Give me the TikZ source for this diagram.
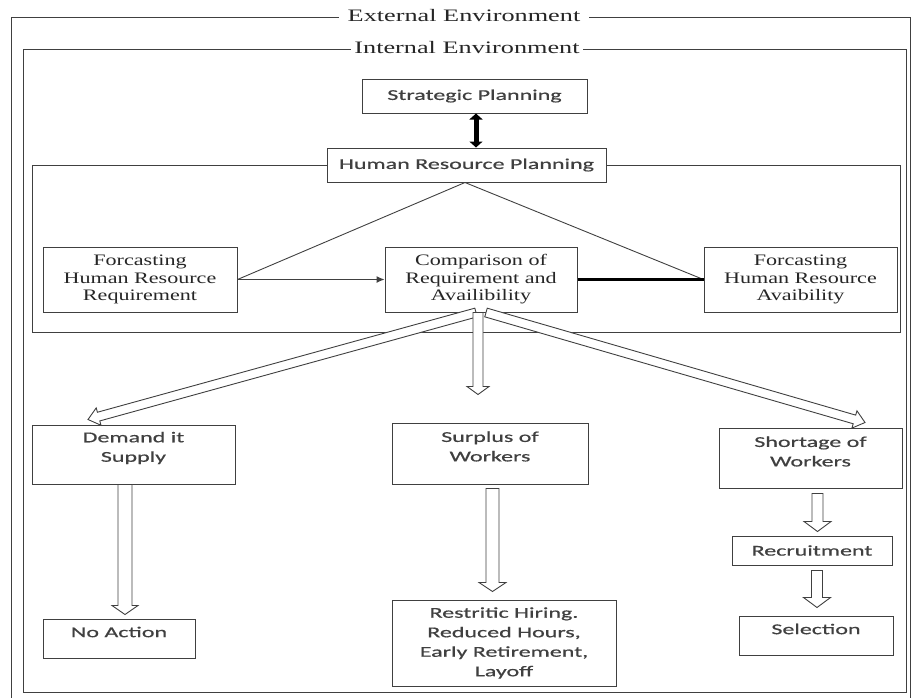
\documentclass[tikz,border=0pt]{standalone}
\usepackage{fontspec}
\usetikzlibrary{calc,arrows.meta}
\newfontfamily\envfont[FakeStretch=1.5]{Liberation Serif}
\newfontfamily\bserif[FakeStretch=1.38]{Liberation Serif}
\newfontfamily\bsans[FakeStretch=1.6,FakeBold=0.6]{Carlito}
% block (outlined) arrow: from, to, shaft half-width, head half-width, head length
\newcommand\blockarrow[5]{%
  \coordinate (ba-h) at ($(#2)!#5!(#1)$);
  \draw[blk] ($(#1)!#3!90:(#2)$) -- ($(ba-h)!#3!90:(#2)$) -- ($(ba-h)!#4!90:(#2)$)
    -- (#2) -- ($(ba-h)!#4!-90:(#2)$) -- ($(ba-h)!#3!-90:(#2)$)
    -- ($(#1)!#3!-90:(#2)$) -- cycle;}
\tikzset{
  ln/.style={draw=black!75, line width=1pt},
  box/.style={draw=black!75, line width=1pt, fill=white, inner sep=0pt},
  stxt/.style={font=\bsans\fontsize{15}{19.5}\selectfont, text=black!75, align=center, inner sep=0pt},
  rtxt/.style={font=\bserif\fontsize{16}{17.5}\selectfont, text=black!85, align=center, inner sep=0pt},
  env/.style={font=\envfont\fontsize{17.5}{20}\selectfont, text=black!85, fill=white, inner ysep=0pt},
  blk/.style={draw=black!75, line width=0.9pt, fill=white, line join=miter},
}
\begin{document}
\begin{tikzpicture}[x=1pt, y=-1pt]
\useasboundingbox (0,0) rectangle (912,697);
% frames
\draw[ln] (11,705) -- (11,17) -- (910,17) -- (910,705);
\node[env, inner xsep=9pt] (ext) at (464,16) {External Environment};
\draw[ln] (23,49) rectangle (906,692);
\node[env, inner xsep=3pt] (int) at (467,48) {Internal Environment};
\draw[ln] (32,165) rectangle (900,332);

% top boxes
\node[box, stxt, minimum width=225pt, minimum height=34pt] (sp) at (474.5,96) {Strategic Planning};
\node[box, stxt, minimum width=279pt, minimum height=34pt] (hrp) at (466.5,165) {Human Resource Planning};
\coordinate (spa) at ([xshift=1.5pt]sp.south);
\draw[black, line width=5pt, {Triangle[length=6pt,width=13pt]}-{Triangle[length=6pt,width=13pt]}] (spa) -- (spa |- hrp.north);

\node[box, rtxt, minimum width=194pt, minimum height=65pt] (freq) at (140,279.5) {Forcasting\\Human Resource\\Requirement};
\node[box, rtxt, minimum width=192pt, minimum height=65pt] (comp) at (481,279.5) {Comparison of\\Requirement and\\Availibility};
\node[box, rtxt, minimum width=193pt, minimum height=65pt] (favail) at (800.5,279.5) {Forcasting\\Human Resource\\Avaibility};

\coordinate (apex) at ([xshift=-1.5pt]hrp.south);
\draw[ln, line width=0.9pt] (apex) -- (freq.east);
\draw[ln, line width=0.9pt] (apex) -- (favail.west);
\draw[ln, line width=1pt, -{Latex[length=8pt,width=7pt]}] (freq.east) -- (comp.west);
\draw[black, line width=2.2pt] (comp.east) -- (favail.west);

% lower boxes
\node[box, minimum width=203pt, minimum height=59pt] (demand) at (133.5,454.5) {};
\node[stxt] (demandT) at ([yshift=6.5pt]demand.center) {Demand it\\Supply};
\node[box, minimum width=196pt, minimum height=61pt] (surplus) at (490,453.5) {};
\node[stxt] (surplusT) at ([yshift=7pt]surplus.center) {Surplus of\\Workers};
\node[box, minimum width=183pt, minimum height=60pt] (shortage) at (810.5,458) {};
\node[stxt] (shortageT) at ([yshift=6.5pt]shortage.center) {Shortage of\\Workers};

\node[box, minimum width=152pt, minimum height=39pt] (noact) at (119,638.5) {};
\node[stxt] (noactT) at ([yshift=6.5pt]noact.center) {No Action};
\node[box, stxt, minimum width=224pt, minimum height=86pt] (restrict) at (504,643) {Restritic Hiring.\\Reduced Hours,\\Early Retirement,\\Layoff};
\node[box, stxt, minimum width=160pt, minimum height=29pt] (recruit) at (812,550.5) {Recruitment};
\node[box, minimum width=154pt, minimum height=39pt] (select) at (816,635.5) {};
\node[stxt] (selectT) at ([yshift=6.5pt]select.center) {Selection};

% block arrows from comparison
\coordinate (cL) at ([xshift=-5pt]comp.south);
\coordinate (cD) at ([xshift=-3pt]comp.south);
\coordinate (cR) at ([xshift=5pt]comp.south);
\coordinate (tL) at ([xshift=-45.5pt,yshift=5pt]demand.north);
\coordinate (tD) at ([xshift=-12pt,yshift=28pt]surplus.north);
\coordinate (tR) at ([xshift=54.5pt,yshift=5pt]shortage.north);
\blockarrow{cL}{tL}{4.5pt}{9pt}{11pt}
\blockarrow{cR}{tR}{4.5pt}{9pt}{11pt}
\blockarrow{cD}{tD}{5pt}{11pt}{8pt}

% vertical block arrows
\coordinate (d1) at ([xshift=-8.5pt]demand.south);
\coordinate (d2) at ([xshift=6pt,yshift=4pt]noact.north);
\blockarrow{d1}{d2}{7pt}{13pt}{9pt}
\coordinate (s1) at ([xshift=2.5pt,yshift=-4pt]surplus.south);
\coordinate (s2) at ([xshift=-11.5pt,yshift=8pt]restrict.north);
\blockarrow{s1}{s2}{6.5pt}{13.5pt}{9pt}
\coordinate (h1) at ([xshift=7pt,yshift=-5pt]shortage.south);
\coordinate (h2) at ([xshift=5.5pt,yshift=4pt]recruit.north);
\blockarrow{h1}{h2}{5.5pt}{13.5pt}{10pt}
\coordinate (r1) at ([xshift=5pt,yshift=-5pt]recruit.south);
\coordinate (r2) at ([xshift=1pt,yshift=8pt]select.north);
\blockarrow{r1}{r2}{5.5pt}{13.5pt}{10pt}
\end{tikzpicture}
\end{document}
